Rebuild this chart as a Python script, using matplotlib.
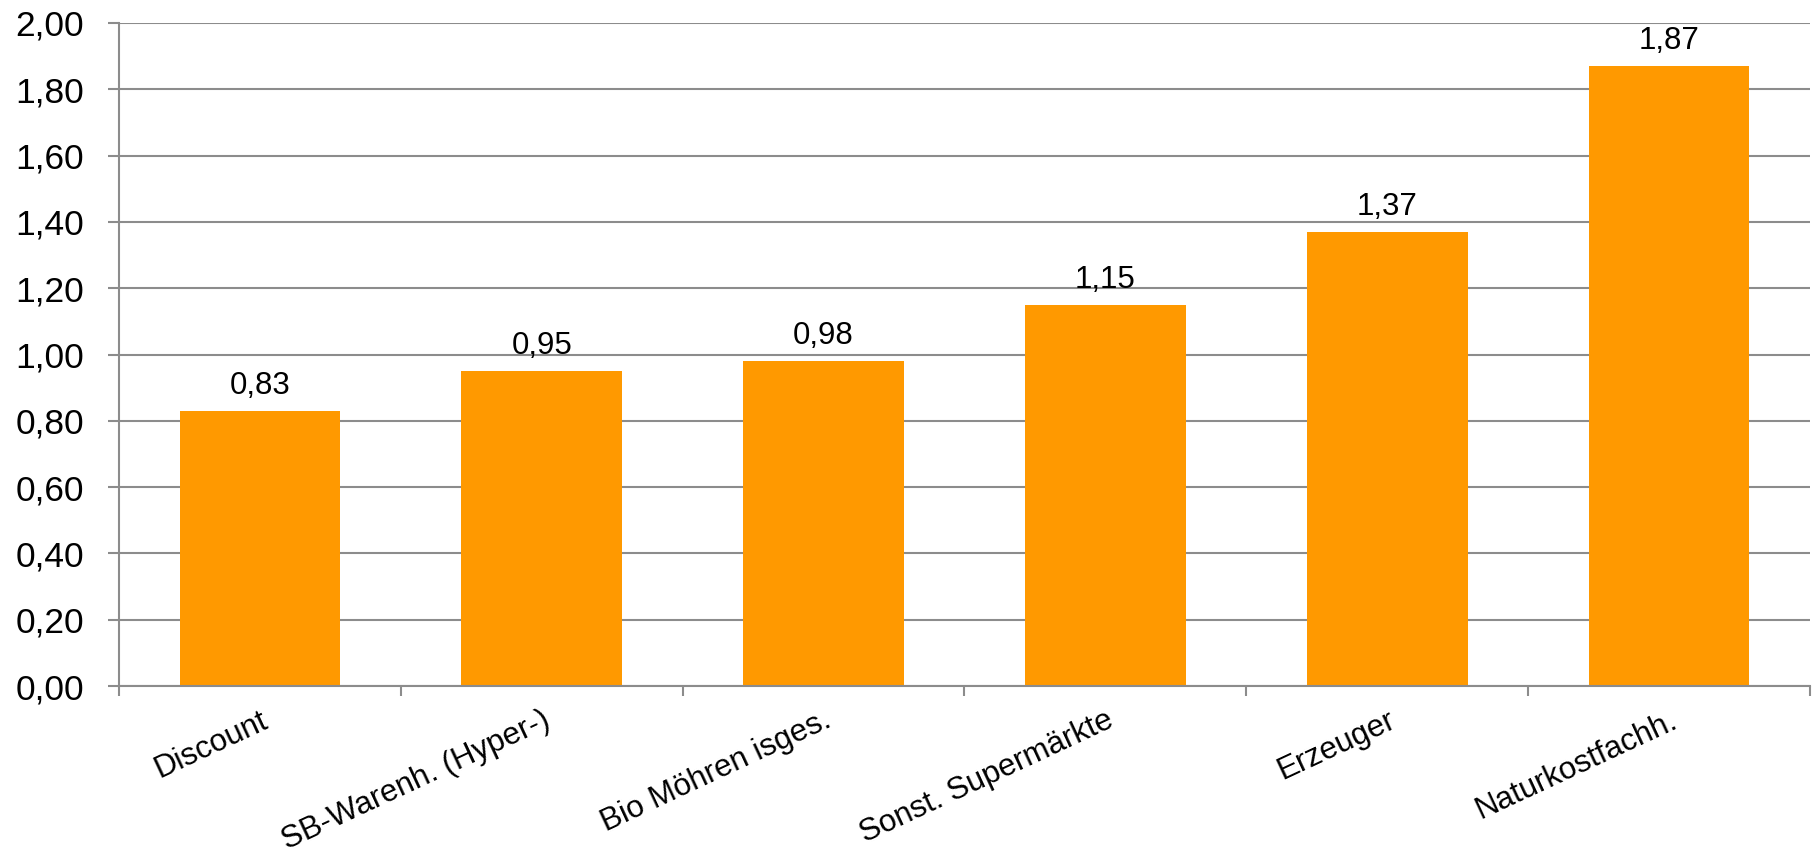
import matplotlib
matplotlib.use("Agg")
import matplotlib.pyplot as plt
import numpy as np

categories = ["Discount", "SB-Warenh. (Hyper-)", "Bio Möhren isges.",
              "Sonst. Supermärkte", "Erzeuger", "Naturkostfachh."]
values = [0.83, 0.95, 0.98, 1.15, 1.37, 1.87]
yticks = [0.0, 0.2, 0.4, 0.6, 0.8, 1.0, 1.2, 1.4, 1.6, 1.8, 2.0]

plt.rcParams['font.family'] = ['Liberation Sans', 'DejaVu Sans']

W, H, DPI = 1813, 857, 100
fig = plt.figure(figsize=(W / DPI, H / DPI), dpi=DPI)
ax = fig.add_axes([119 / W, 1 - 686 / H, (1810 - 119) / W, (686 - 23) / H])

grid_c = "#8c8c8c"
bar_c = "#FF9900"

x = np.arange(len(categories))
ax.bar(x, values, width=0.57, color=bar_c, zorder=3)

ax.set_xlim(-0.5, len(categories) - 0.5)
ax.set_ylim(0, 2.0)

ax.set_yticks(yticks)
ax.set_yticklabels([f"{v:.2f}".replace(".", ",") for v in yticks], fontsize=25.5)
ax.yaxis.grid(True, color=grid_c, linewidth=1.5, zorder=0)
ax.tick_params(axis='y', length=8, width=1.5, color=grid_c, pad=17)

ax.set_xticks(x)
ax.set_xticklabels(categories, fontsize=22.5, rotation=25, ha='right',
                   rotation_mode='anchor')
ax.tick_params(axis='x', which='major', length=0, pad=14)
ax.set_xticks(np.arange(-0.5, len(categories), 1.0), minor=True)
ax.tick_params(axis='x', which='minor', length=7, width=1.5, color=grid_c)

for s in ['top', 'right']:
    ax.spines[s].set_visible(False)
for s in ['left', 'bottom']:
    ax.spines[s].set_color(grid_c)
    ax.spines[s].set_linewidth(1.5)
    ax.spines[s].set_zorder(4)

for xi, v in zip(x, values):
    ax.annotate(f"{v:.2f}".replace(".", ","), (xi, v), xytext=(0, 12),
                textcoords='offset points', ha='center', va='baseline',
                fontsize=22.5)

fig.savefig("out.png", dpi=DPI)
